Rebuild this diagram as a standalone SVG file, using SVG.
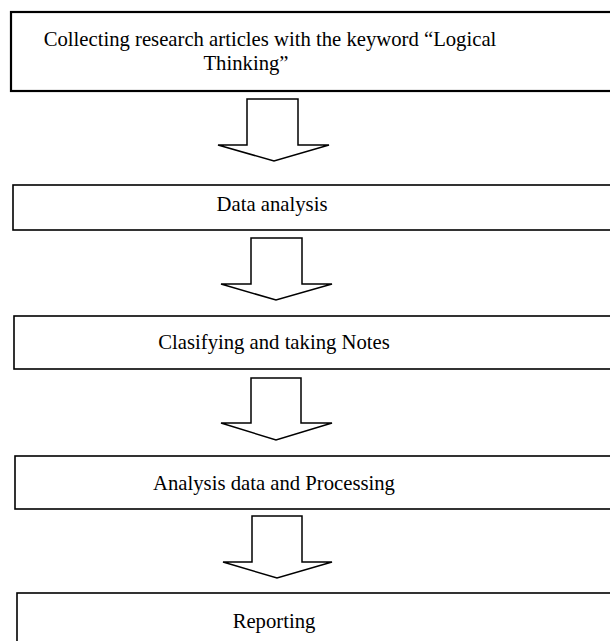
<svg xmlns="http://www.w3.org/2000/svg" width="610" height="641" viewBox="0 0 610 641">
<style>
.box{fill:#fff;stroke:#000;stroke-width:1.6}
.arr{fill:#fff;stroke:#000;stroke-width:1.5;stroke-linejoin:miter}
.t{font-family:"Liberation Serif","Times New Roman",serif;font-size:20.7px;fill:#000;text-anchor:middle}
</style>
<rect width="610" height="641" fill="#fff"/>
<g id="node1">
<rect class="box" x="11" y="12" width="620" height="79" style="stroke-width:2.2"/>
<text class="t" x="270" y="46">Collecting research articles with the keyword “Logical</text>
<text class="t" x="246" y="70">Thinking”</text>
</g>
<g id="node2">
<rect class="box" x="13" y="185" width="620" height="45"/>
<text class="t" x="272" y="211">Data analysis</text>
</g>
<g id="node3">
<rect class="box" x="14" y="316" width="620" height="53"/>
<text class="t" x="274" y="349">Clasifying and taking Notes</text>
</g>
<g id="node4">
<rect class="box" x="15" y="456" width="620" height="53"/>
<text class="t" x="274" y="490">Analysis data and Processing</text>
</g>
<g id="node5">
<rect class="box" x="17" y="593" width="620" height="70"/>
<text class="t" x="274" y="628">Reporting</text>
</g>
<g id="connectors">
<polygon class="arr" points="247,99 298,99 298,145 329,145 274,161 218,145 247,145"/>
<polygon class="arr" points="251,238 302,238 302,284 332,284 276,300 221,284 251,284"/>
<polygon class="arr" points="251,378 301,378 301,423 332,423 276,440 221,423 251,423"/>
<polygon class="arr" points="252,516 302,516 302,562 332,562 277,578 223,562 252,562"/>
</g>
</svg>
